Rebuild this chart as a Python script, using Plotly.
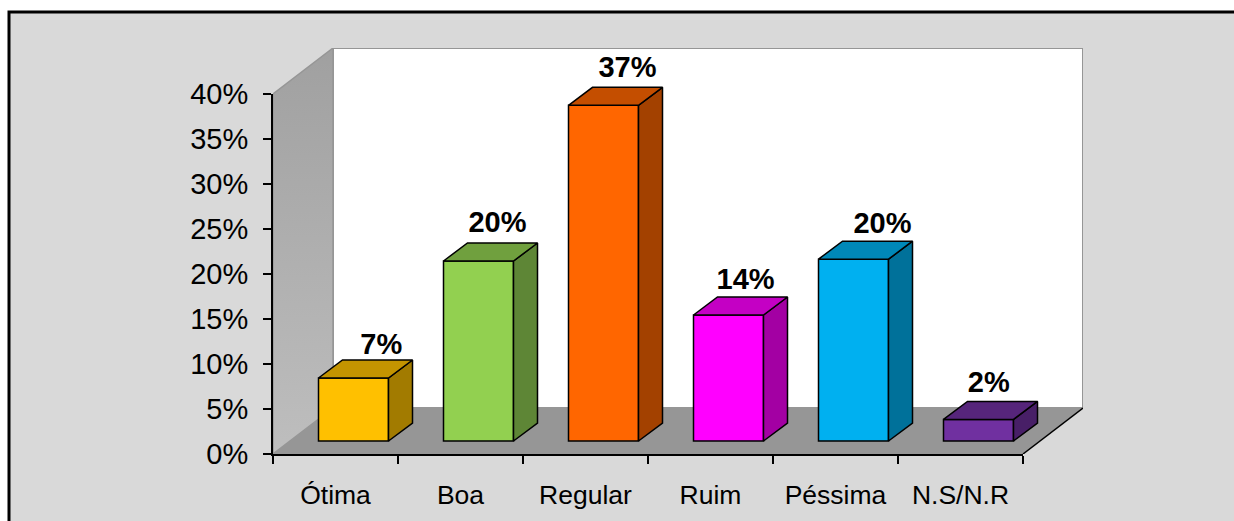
import plotly.graph_objects as go

categories = ["Ótima", "Boa", "Regular", "Ruim", "Péssima", "N.S/N.R"]
values = [7.0, 20.0, 37.3, 14.0, 20.2, 2.4]
front_colors = ["#FFC000", "#92D050", "#FF6600", "#FF00FF", "#00B0F0", "#7030A0"]
top_colors = ["#C49400", "#70A03E", "#C44E00", "#C400C4", "#0088B8", "#56257B"]
side_colors = ["#A27B00", "#5E8636", "#A34100", "#A300A3", "#00719A", "#481F67"]
y_ticks = [0, 5, 10, 15, 20, 25, 30, 35, 40]
y_tick_labels = ["0%", "5%", "10%", "15%", "20%", "25%", "30%", "35%", "40%"]
label_nudge_x = [0.03, -0.04, 0.0, -0.055, 0.04, -0.11]
label_nudge_y = [-0.55, 0.0, 0.0, -0.33, -0.3, -0.1]

# Plot area geometry in figure pixels
W, H = 1234, 521
L, R, T, B = 273, 1083, 48, 454
X_MAX = (R - L) / 125
Y_MAX = (B - T) / 9
X3_FRAC = 750 / (R - L)
Y3_FRAC = 360 / (B - T)

# Oblique projection in axis units
wall_dx, wall_dy = 60 / 125, 46 / 9
bar_dx, bar_dy = 24 / 125, 18 / 9
bar_width = 70 / 125
bar_shift = 18 / 125
bar_base = 13 / 9
label_gap = 18 / 9
n = len(categories)

fig = go.Figure()


def poly(xs, ys, fill, line_color=None, line_width=0, xa="x", ya="y", **kw):
    fig.add_trace(go.Scatter(
        x=xs, y=ys, xaxis=xa, yaxis=ya, mode="lines", fill="toself", fillcolor=fill,
        line=dict(color=line_color or fill, width=line_width),
        hoverinfo="skip", showlegend=False, **kw))


# Back wall
poly([wall_dx, X_MAX, X_MAX, wall_dx, wall_dx], [wall_dy, wall_dy, Y_MAX, Y_MAX, wall_dy],
     "#FFFFFF", "#969696", 2)
# Left wall
fig.add_trace(go.Scatter(
    x=[0, wall_dx, wall_dx, 0, 0], y=[0, wall_dy, Y_MAX, 40, 0], mode="lines", fill="toself",
    fillgradient=dict(type="vertical",
                      colorscale=[[0, "#BEBEBE"], [1, "#A0A0A0"]]),
    line=dict(color="#969696", width=1.5), hoverinfo="skip", showlegend=False))
# Floor
poly([0, n, X_MAX, wall_dx, 0], [0, 0, wall_dy, wall_dy, 0], "#969696")
fig.add_trace(go.Scatter(x=[n, X_MAX], y=[0, wall_dy], mode="lines",
                         line=dict(color="#000000", width=1.5),
                         hoverinfo="skip", showlegend=False))

# Bars: front faces
centers = [i + 0.5 + bar_shift for i in range(n)]
fig.add_trace(go.Bar(
    x=centers, y=values, base=bar_base, width=bar_width, xaxis="x2", yaxis="y2",
    marker=dict(color=front_colors, line=dict(color="#000000", width=1.5)),
    hoverinfo="skip", showlegend=False))

# Bars: side and top faces
for c, v, tc, sc in zip(centers, values, top_colors, side_colors):
    x0, x1 = c - bar_width / 2, c + bar_width / 2
    y0, y1 = bar_base, bar_base + v
    poly([x1, x1 + bar_dx, x1 + bar_dx, x1, x1], [y0, y0 + bar_dy, y1 + bar_dy, y1, y0],
         sc, "#000000", 1.5, "x2", "y2")
    poly([x0, x1, x1 + bar_dx, x0 + bar_dx, x0], [y1, y1, y1 + bar_dy, y1 + bar_dy, y1],
         tc, "#000000", 1.5, "x2", "y2")

# Value labels
fig.add_trace(go.Scatter(
    x=[c + bar_dx + d for c, d in zip(centers, label_nudge_x)],
    y=[bar_base + v + bar_dy + label_gap + d for v, d in zip(values, label_nudge_y)],
    xaxis="x2", yaxis="y2", mode="text",
    text=[f"{round(v)}%" for v in values], textposition="middle center",
    textfont=dict(family="Liberation Sans", size=29, color="#000000", weight="bold"),
    cliponaxis=False, hoverinfo="skip", showlegend=False))

# Visible axes subplot
fig.add_trace(go.Scatter(x=[None], y=[None], xaxis="x3", yaxis="y3", mode="lines",
                         hoverinfo="skip", showlegend=False))

hidden = dict(visible=False, fixedrange=True, automargin=False)
fig.update_layout(
    template="none",
    width=W, height=H,
    margin=dict(l=L, r=W - R, t=T, b=H - B, pad=0, autoexpand=False),
    paper_bgcolor="#FFFFFF", plot_bgcolor="rgba(0,0,0,0)",
    barmode="overlay", showlegend=False,
    xaxis=dict(range=[0, X_MAX], domain=[0, 1], **hidden),
    yaxis=dict(range=[0, Y_MAX], domain=[0, 1], **hidden),
    xaxis2=dict(range=[0, X_MAX], overlaying="x", anchor="y2", **hidden),
    yaxis2=dict(range=[0, Y_MAX], overlaying="y", anchor="x2", **hidden),
    xaxis3=dict(range=[0, n], domain=[0, X3_FRAC], anchor="y3", showgrid=False, zeroline=False,
                showline=True, linecolor="#000000", linewidth=2, automargin=False,
                tickmode="array", tickvals=[i + 0.5 for i in range(n)], ticktext=categories,
                ticks="outside", ticklen=16, tickcolor="rgba(0,0,0,0)",
                minor=dict(tickmode="array", tickvals=list(range(n + 1)), ticks="outside",
                           ticklen=8, tickwidth=2, tickcolor="#000000"),
                tickfont=dict(family="Liberation Sans", size=26.5, color="#000000"),
                fixedrange=True),
    yaxis3=dict(range=[0, 40], domain=[0, Y3_FRAC], anchor="x3", showgrid=False, zeroline=False,
                showline=True, linecolor="#000000", linewidth=2, automargin=False,
                tickmode="array", tickvals=y_ticks, ticktext=y_tick_labels,
                ticks="outside", ticklen=8, tickwidth=2, tickcolor="#000000",
                ticklabelstandoff=9,
                tickfont=dict(family="Liberation Sans", size=29, color="#000000"),
                fixedrange=True),
    shapes=[dict(type="rect", xref="paper", yref="paper", layer="below",
                 x0=(9 - L) / (R - L), x1=(W + 10 - L) / (R - L),
                 y0=(B - (H + 10)) / (B - T), y1=(B - 12) / (B - T),
                 fillcolor="#D9D9D9", line=dict(color="#000000", width=3))],
)

fig.write_html("out.html", config=dict(displayModeBar=False),
               post_script="document.body.style.margin='0';document.body.style.overflow='hidden';")
